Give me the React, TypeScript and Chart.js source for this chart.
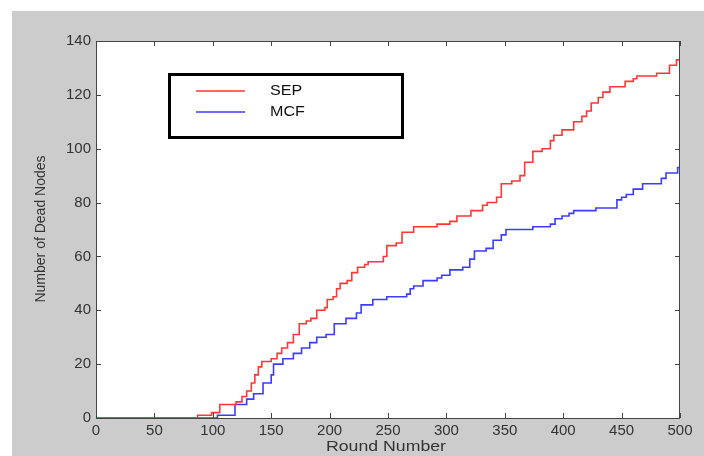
import React, { useEffect, useRef } from "react";
import { Chart, registerables } from "chart.js";

Chart.register(...registerables);

const xTicks = [0, 50, 100, 150, 200, 250, 300, 350, 400, 450, 500];
const yTicks = [0, 20, 40, 60, 80, 100, 120, 140];

const sepRounds = [0, 87, 99, 106, 120, 125, 129, 133, 136, 139, 142, 150, 155, 159, 164, 169, 174, 180, 184, 189, 196, 198, 203, 206, 209, 215, 219, 224, 230, 233, 246, 249, 257, 262, 272, 292, 303, 309, 321, 331, 335, 343, 347, 356, 363, 367, 374, 382, 389, 392, 399, 409, 416, 420, 424, 430, 434, 440, 453, 460, 463, 480, 491, 497, 500];
const sepValues = [0, 1, 2, 5, 6, 8, 10, 13, 16, 19, 21, 22, 24, 26, 28, 31, 35, 36, 37, 40, 41, 44, 45, 48, 50, 51, 54, 56, 57, 58, 60, 64, 65, 69, 71, 72, 73, 75, 77, 79, 80, 82, 87, 88, 90, 95, 99, 100, 103, 105, 107, 110, 112, 114, 117, 119, 121, 123, 125, 126, 127, 128, 131, 133, 133];

const mcfRounds = [0, 104, 119, 129, 135, 143, 150, 152, 160, 169, 176, 183, 189, 197, 204, 214, 223, 227, 237, 249, 266, 269, 272, 280, 292, 296, 303, 314, 320, 324, 334, 340, 347, 351, 374, 389, 393, 399, 405, 409, 428, 446, 450, 454, 460, 468, 484, 488, 498, 500];
const mcfValues = [0, 1, 5, 7, 9, 13, 16, 20, 22, 24, 26, 28, 30, 31, 35, 37, 39, 42, 44, 45, 46, 48, 49, 51, 52, 53, 55, 56, 59, 62, 63, 66, 68, 70, 71, 72, 74, 75, 76, 77, 78, 81, 82, 83, 85, 87, 89, 91, 93, 93];

const seriesNames = ["SEP", "MCF"];
const xTitle = "Round Number";
const yTitle = "Number of Dead Nodes";

const RED = "rgb(255,55,55)";
const BLUE = "rgb(60,60,255)";
const FONT = "'Liberation Sans', Arial, sans-serif";

const decorPlugin = {
  id: "decor",
  beforeDraw(chart: any) {
    const ctx = chart.ctx;
    const a = chart.chartArea;
    ctx.save();
    ctx.fillStyle = "#ffffff";
    ctx.fillRect(0, 0, chart.width, chart.height);
    ctx.fillStyle = "#cccccc";
    ctx.fillRect(12, 11, chart.width - 12, chart.height - 11);
    ctx.fillStyle = "#ffffff";
    ctx.fillRect(a.left, a.top, a.right - a.left, a.bottom - a.top);
    ctx.restore();
  },
  afterDraw(chart: any) {
    const ctx = chart.ctx;
    const a = chart.chartArea;
    const xs = chart.scales.x;
    const ys = chart.scales.y;
    ctx.save();
    ctx.strokeStyle = "#444444";
    ctx.lineWidth = 1;
    ctx.strokeRect(a.left + 0.5, a.top + 0.5, a.right - a.left - 1, a.bottom - a.top);
    ctx.beginPath();
    const tl = 5;
    xTicks.forEach((v) => {
      const px = Math.round(xs.getPixelForValue(v)) + 0.5;
      ctx.moveTo(px, a.bottom);
      ctx.lineTo(px, a.bottom - tl);
      ctx.moveTo(px, a.top);
      ctx.lineTo(px, a.top + tl);
    });
    yTicks.forEach((v) => {
      const py = Math.round(ys.getPixelForValue(v)) + 0.5;
      ctx.moveTo(a.left, py);
      ctx.lineTo(a.left + tl, py);
      ctx.moveTo(a.right, py);
      ctx.lineTo(a.right - tl, py);
    });
    ctx.stroke();

    // axis titles
    ctx.fillStyle = "#333333";
    ctx.font = "15px " + FONT;
    ctx.textAlign = "center";
    ctx.textBaseline = "middle";
    ctx.save();
    ctx.translate((a.left + a.right) / 2 - 2, 447);
    ctx.scale(1.18, 1);
    ctx.fillText(xTitle, 0, 0);
    ctx.restore();
    ctx.save();
    ctx.translate(41, 229);
    ctx.rotate(-Math.PI / 2);
    ctx.font = "14px " + FONT;
    ctx.fillText(yTitle, 0, 0);
    ctx.restore();

    // legend
    ctx.strokeStyle = "#000000";
    ctx.lineWidth = 3;
    ctx.strokeRect(169.5, 74.5, 233, 63);
    const colors = [RED, BLUE];
    const rows = [91, 112];
    ctx.font = "14px " + FONT;
    ctx.textAlign = "left";
    ctx.fillStyle = "#111111";
    seriesNames.forEach((n, i) => {
      ctx.strokeStyle = colors[i];
      ctx.lineWidth = 1.5;
      ctx.beginPath();
      ctx.moveTo(196, rows[i]);
      ctx.lineTo(245, rows[i]);
      ctx.stroke();
      ctx.save();
      ctx.translate(270, rows[i]);
      ctx.scale(1.15, 1);
      ctx.fillText(n, 0, 0);
      ctx.restore();
    });
    ctx.restore();
  },
};

export default function App() {
  const ref = useRef<HTMLCanvasElement | null>(null);
  useEffect(() => {
    if (!ref.current) return;
    const toPts = (xs: number[], ys: number[]) => xs.map((x, i) => ({ x, y: ys[i] }));
    const chart = new Chart(ref.current, {
      type: "line",
      data: {
        datasets: [
          {
            label: seriesNames[0],
            data: toPts(sepRounds, sepValues),
            borderColor: RED,
            borderWidth: 1.6,
            pointRadius: 0,
            stepped: true,
            fill: false,
          },
          {
            label: seriesNames[1],
            data: toPts(mcfRounds, mcfValues),
            borderColor: BLUE,
            borderWidth: 1.6,
            pointRadius: 0,
            stepped: true,
            fill: false,
          },
        ],
      },
      options: {
        responsive: false,
        animation: false,
        layout: { padding: { top: 41, right: 24, left: 0, bottom: 0 } },
        plugins: { legend: { display: false }, tooltip: { enabled: false } },
        scales: {
          x: {
            type: "linear",
            min: 0,
            max: 500,
            afterBuildTicks: (s: any) => {
              s.ticks = xTicks.map((v) => ({ value: v }));
            },
            afterFit: (s: any) => {
              s.height = 38;
            },
            grid: { display: false, drawTicks: false, tickLength: 0 },
            border: { display: false },
            ticks: {
              color: "#333333",
              padding: 4,
              maxRotation: 0,
              autoSkip: false,
              font: { family: FONT, size: 15 },
            },
          },
          y: {
            type: "linear",
            min: 0,
            max: 140,
            afterBuildTicks: (s: any) => {
              s.ticks = yTicks.map((v) => ({ value: v }));
            },
            afterFit: (s: any) => {
              s.width = 96;
            },
            grid: { display: false, drawTicks: false, tickLength: 0 },
            border: { display: false },
            ticks: {
              color: "#333333",
              padding: 5,
              autoSkip: false,
              font: { family: FONT, size: 15 },
            },
          },
        },
      },
      plugins: [decorPlugin],
    });
    return () => chart.destroy();
  }, []);
  return (
    <div style={{ position: "absolute", left: 0, top: 0, width: 704, height: 456 }}>
      <canvas ref={ref} width={704} height={456} style={{ display: "block" }} />
    </div>
  );
}
